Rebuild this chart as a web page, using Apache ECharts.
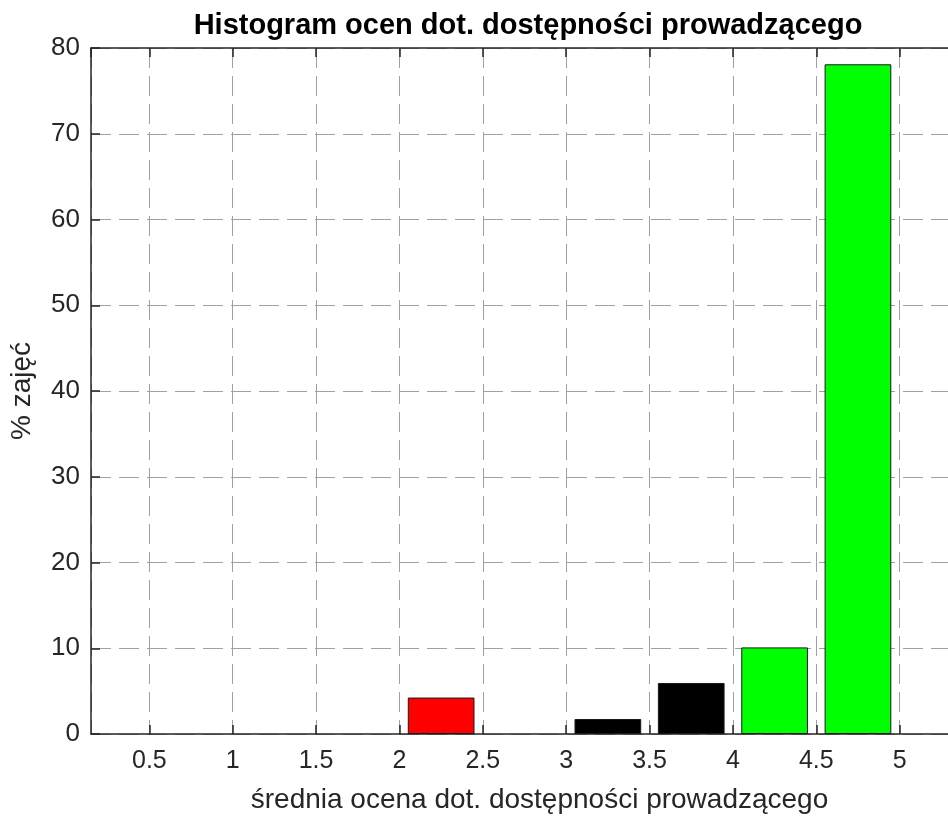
<!DOCTYPE html>
<html>
<head>
<meta charset="utf-8">
<script src="https://cdn.jsdelivr.net/npm/echarts@6/dist/echarts.min.js"></script>
<style>
html,body{margin:0;padding:0;background:#fff;}
#chart{width:948px;height:816px;}
</style>
</head>
<body>
<div id="chart"></div>
<script>
// Data
const binCenters = [0.25, 0.75, 1.25, 1.75, 2.25, 2.75, 3.25, 3.75, 4.25, 4.75];
const percentValues = [0, 0, 0, 0, 4.25, 0, 1.75, 5.95, 10.1, 78.1];
const barColors = ['#ff0000', '#ff0000', '#ff0000', '#ff0000', '#ff0000', '#000000', '#000000', '#000000', '#00ff00', '#00ff00'];
const titleText = 'Histogram ocen dot. dostępności prowadzącego';
const xName = 'średnia ocena dot. dostępności prowadzącego';
const yName = '% zajęć';

const FONT = '"Liberation Sans", Arial, Helvetica, sans-serif';
const TXT = '#262626';

const chart = echarts.init(document.getElementById('chart'), null, {renderer: 'canvas'});

const seriesData = binCenters.map((c, i) => ({
  value: [c, percentValues[i]],
  itemStyle: {color: barColors[i], borderWidth: percentValues[i] > 0 ? 1 : 0}
}));

const option = {
  backgroundColor: '#ffffff',
  animation: false,
  title: {
    text: titleText,
    left: 523, top: 6, textAlign: 'center',
    textStyle: {fontFamily: FONT, fontWeight: 'bold', fontSize: 29, color: '#000'}
  },
  grid: {left: 91, top: 48, width: 867, height: 686, containLabel: false, outerBoundsMode: 'none'},
  xAxis: [{
    type: 'value',
    min: 0.15, max: 5.35,
    splitNumber: 10,
    name: xName,
    nameLocation: 'middle',
    nameGap: 52,
    nameTextStyle: {fontFamily: FONT, fontSize: 28, color: TXT, padding: [0, 0, 0, 30]},
    axisLine: {show: true, onZero: false, lineStyle: {color: TXT, width: 1.5}},
    axisTick: {show: true, inside: true, length: 9, lineStyle: {color: TXT, width: 1.5}},
    axisLabel: {show: true, showMinLabel: false, showMaxLabel: false, margin: 15,
      fontFamily: FONT, fontSize: 25, color: TXT},
    splitLine: {show: true, lineStyle: {color: '#a0a0a0', width: 1, type: [20, 8]}}
  }, {
    type: 'value',
    position: 'top',
    min: 0.15, max: 5.35,
    splitNumber: 10,
    axisLine: {show: true, onZero: false, lineStyle: {color: TXT, width: 1.5}},
    axisTick: {show: true, inside: true, length: 9, lineStyle: {color: TXT, width: 1.5}},
    axisLabel: {show: false},
    splitLine: {show: false}
  }],
  yAxis: {
    type: 'value',
    min: 0, max: 80, interval: 10,
    name: yName,
    nameLocation: 'middle',
    nameGap: 55,
    nameRotate: 90,
    nameTextStyle: {fontFamily: FONT, fontSize: 28, color: TXT},
    axisLine: {show: true, lineStyle: {color: TXT, width: 1.5}},
    axisTick: {show: true, inside: true, length: 9, lineStyle: {color: TXT, width: 1.5}},
    axisLabel: {margin: 11, fontFamily: FONT, fontSize: 26, color: TXT},
    splitLine: {show: true, lineStyle: {color: '#a0a0a0', width: 1, type: [20, 8]}}
  },
  series: [{
    type: 'bar',
    xAxisIndex: 0,
    barWidth: 66.7,
    data: seriesData,
    itemStyle: {borderColor: '#1a1a1a', borderWidth: 1}
  }]
};
chart.setOption(option);
</script>
</body>
</html>
